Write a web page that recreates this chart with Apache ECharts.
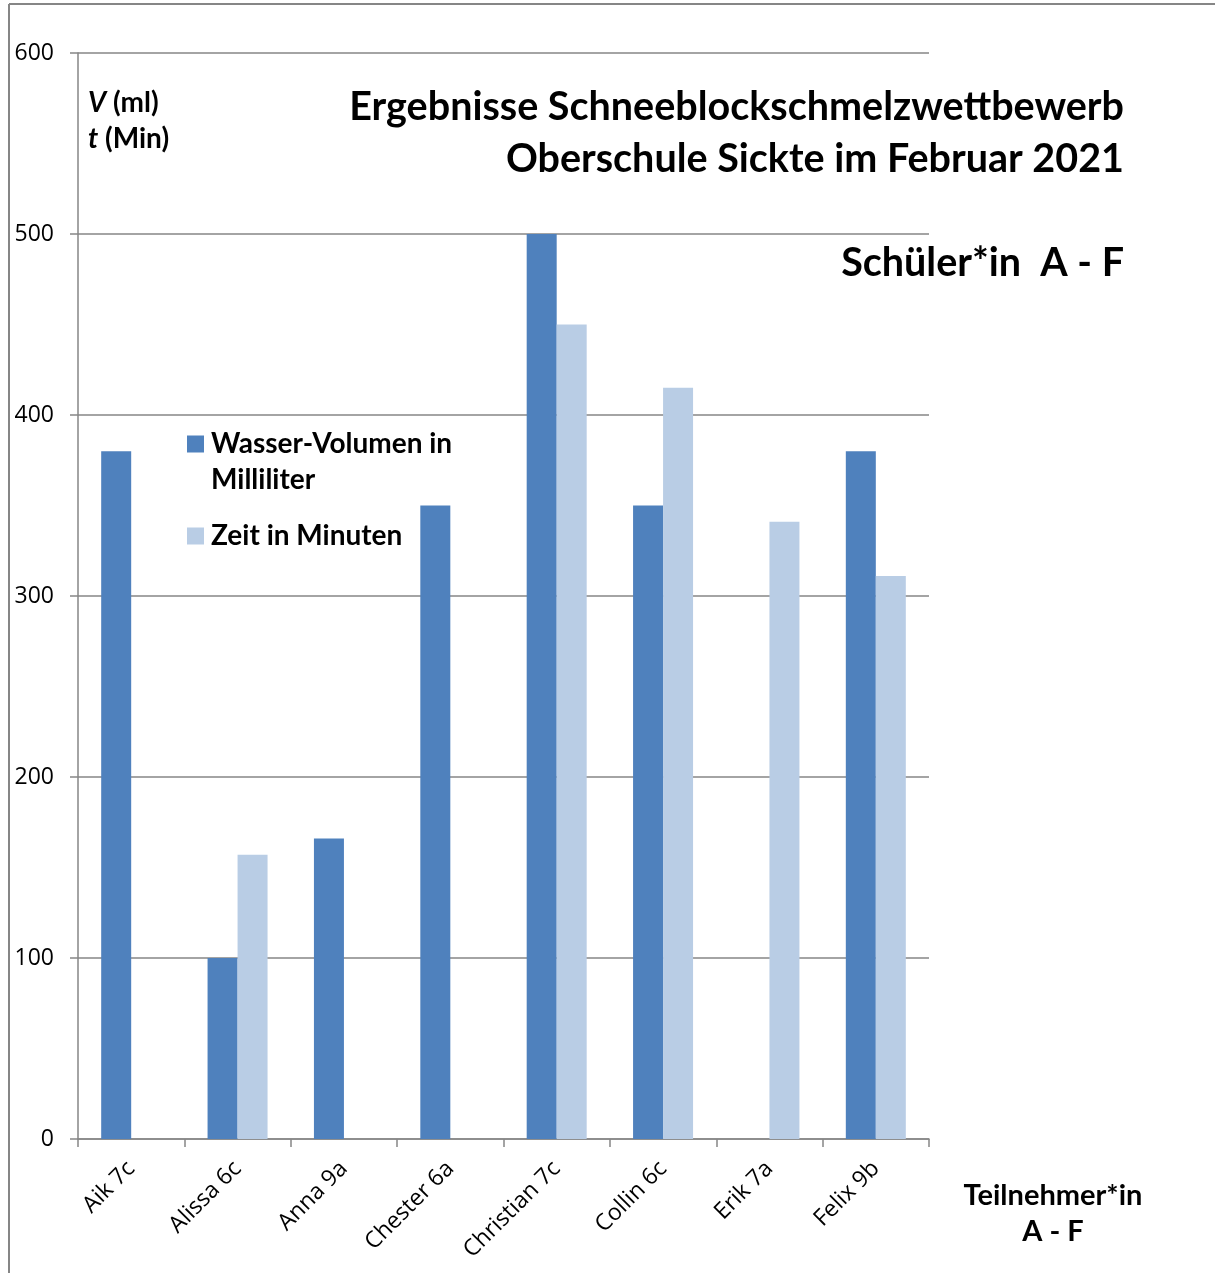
<!DOCTYPE html>
<html>
<head>
<meta charset="utf-8">
<script src="https://cdn.jsdelivr.net/npm/echarts@6/dist/echarts.min.js"></script>
<style>html,body{margin:0;padding:0;background:#fff}#c{width:1215px;height:1273px}</style>
</head>
<body>
<div id="c"></div>
<script>
const categories = ['Aik 7c','Alissa 6c','Anna 9a','Chester 6a','Christian 7c','Collin 6c','Erik 7a','Felix 9b'];
const volumeName = 'Wasser-Volumen in Milliliter';
const timeName = 'Zeit in Minuten';
const volumeMl = [380, 100, 166, 350, 500, 350, null, 380];
const timeMin = [null, 157, null, null, 450, 415, 341, 311];
const yTicks = [0, 100, 200, 300, 400, 500, 600];

const chart = echarts.init(document.getElementById('c'), null, {renderer: 'canvas'});
const bold = {fontFamily: 'Lato', fontWeight: 'bold', color: '#000'};
const grey = '#868686';
chart.setOption({
  animation: false,
  backgroundColor: '#fff',
  grid: {left: 78, right: 286, top: 53, bottom: 134, containLabel: false},
  xAxis: {
    type: 'category',
    data: categories,
    axisLine: {show: true, lineStyle: {color: grey, width: 1.5}},
    axisTick: {show: true, length: 8, alignWithLabel: false, lineStyle: {color: grey, width: 1.5}},
    axisLabel: {rotate: 45, margin: 26, fontFamily: 'Open Sans', fontSize: 23, color: '#000'},
    splitLine: {show: false}
  },
  yAxis: {
    type: 'value',
    min: yTicks[0],
    max: yTicks[yTicks.length - 1],
    interval: 100,
    axisLine: {show: true, lineStyle: {color: grey, width: 1.5}},
    axisTick: {show: true, length: 8, lineStyle: {color: grey, width: 1.5}},
    axisLabel: {margin: 24, fontFamily: 'Open Sans', fontSize: 23, color: '#000'},
    splitLine: {show: true, lineStyle: {color: grey, width: 1.5}}
  },
  legend: [
    {
      data: [volumeName], left: 187, top: 390, orient: 'vertical', padding: 0,
      itemWidth: 17, itemHeight: 17, itemGap: 0, icon: 'rect',
      formatter: () => ' \nWasser-Volumen in\nMilliliter',
      textStyle: Object.assign({fontSize: 28, lineHeight: 36, padding: [0, 0, 0, 2]}, bold)
    },
    {
      data: [timeName], left: 187, top: 518, orient: 'vertical', padding: 0,
      itemWidth: 17, itemHeight: 17, itemGap: 0, icon: 'rect',
      textStyle: Object.assign({fontSize: 28, lineHeight: 36, padding: [0, 0, 0, 2]}, bold)
    }
  ],
  title: [
    {
      text: 'Ergebnisse Schneeblockschmelzwettbewerb\nOberschule Sickte im Februar 2021',
      left: 1119, top: 76, textAlign: 'right',
      textStyle: Object.assign({fontSize: 39.5, lineHeight: 52, align: 'right'}, bold)
    },
    {
      text: 'Schüler*in  A - F',
      left: 1119, top: 232, textAlign: 'right',
      textStyle: Object.assign({fontSize: 39.5, lineHeight: 52, align: 'right'}, bold)
    },
    {
      text: '{i|V} (ml)\n{i|t} (Min)',
      left: 83, top: 80,
      textStyle: Object.assign({fontSize: 28, lineHeight: 36, rich: {i: Object.assign({fontSize: 28, fontStyle: 'italic', lineHeight: 36}, bold)}}, bold)
    },
    {
      text: 'Teilnehmer*in\nA - F',
      left: 1048, top: 1173, textAlign: 'center',
      textStyle: Object.assign({fontSize: 29, lineHeight: 36, align: 'center'}, bold)
    }
  ],
  graphic: [
    {type: 'line', shape: {x1: 9, y1: 4, x2: 1215, y2: 4}, style: {stroke: grey, lineWidth: 2}},
    {type: 'line', shape: {x1: 9, y1: 4, x2: 9, y2: 1273}, style: {stroke: grey, lineWidth: 2}}
  ],
  series: [
    {name: volumeName, type: 'bar', data: volumeMl, barWidth: 30, barGap: '0%', itemStyle: {color: '#4F81BD'}},
    {name: timeName, type: 'bar', data: timeMin, barWidth: 30, barGap: '0%', itemStyle: {color: '#B9CDE5'}}
  ]
});
</script>
</body>
</html>
